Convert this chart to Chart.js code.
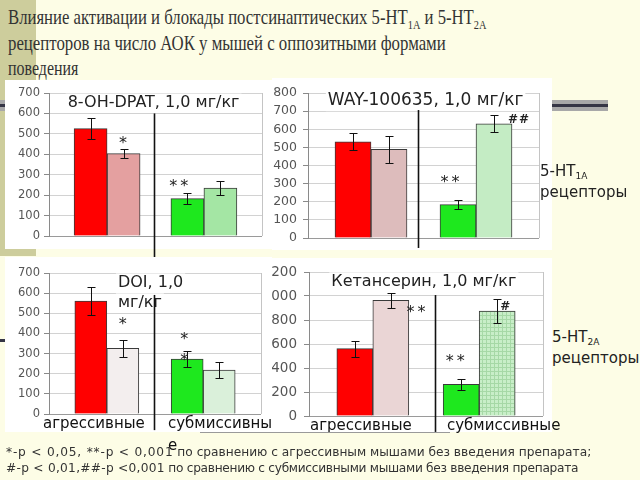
<!DOCTYPE html>
<html>
<head>
<meta charset="utf-8">
<script src="https://cdn.jsdelivr.net/npm/chart.js@4.4.1/dist/chart.umd.min.js"></script>
<style>
  html, body { margin: 0; padding: 0; }
  body { width: 640px; height: 480px; overflow: hidden; position: relative;
         background: #fdfde6; font-family: "DejaVu Sans", sans-serif; }
  .abs { position: absolute; }
  #khaki { left: 0; top: 0; width: 36px; height: 256px; background: #cdcd9c; }
  #rule { left: 0; top: 100px; width: 608px; height: 11px; background: #a8a8a8; }
  #rule::after { content: ""; position: absolute; left: 0; right: 0; top: 4px; height: 3px; background: #353545; }
  #rule2 { left: 0; top: 339px; width: 20px; height: 3px; background: #353545; }
  .panel { background: #fff; }
  .tline { left: 8px; font-family: "Liberation Serif", serif; font-size: 21px; line-height: 26px;
           color: #333; white-space: nowrap; transform-origin: 0 50%; }
  .tline sub { font-size: 13px; vertical-align: -5px; line-height: 0; }
  .side { font-size: 15px; line-height: 21px; color: #222; white-space: nowrap; }
  .side sub { font-size: 9px; vertical-align: -3px; line-height: 0; }
  .grp { font-size: 15px; line-height: 22px; color: #111; white-space: nowrap; }
  #wrapLbl { white-space: normal; word-break: break-all; width: 112px; }
  #notes { left: 6px; top: 445px; font-size: 12.2px; line-height: 15.5px; color: #333; white-space: nowrap; }
  #notes .p1 { letter-spacing: 0.8px; }
  #notes .p2 { letter-spacing: 0.27px; }
  #notes .r2 { letter-spacing: -0.3px; }
  #uline { left: 200px; top: 432px; width: 250px; height: 1px; background: #9a9a9a; }
  canvas { position: absolute; }
</style>
</head>
<body>
<div id="khaki" class="abs"></div>
<div id="rule" class="abs"></div>
<div id="rule2" class="abs"></div>
<div class="abs tline" style="top:4px;transform:scaleX(0.795)">Влияние активации и блокады постсинаптических 5-HT<sub>1A</sub> и 5-HT<sub>2A</sub></div>
<div class="abs tline" style="top:30px;transform:scaleX(0.80)">рецепторов на число АОК у мышей с оппозитными формами</div>
<div class="abs tline" style="top:55px;transform:scaleX(0.76)">поведения</div>

<div class="abs panel" style="left:5px;top:80px;width:267px;height:169px"></div>
<div class="abs panel" style="left:272px;top:78px;width:280px;height:172px"></div>
<canvas id="c1" width="272" height="185" style="left:0;top:75px"></canvas>
<canvas id="c2" width="280" height="185" style="left:272px;top:75px"></canvas>

<div class="abs panel" style="left:262px;top:258px;width:290px;height:174px"></div>
<canvas id="c4" width="290" height="185" style="left:262px;top:255px"></canvas>
<div class="abs panel" style="left:5px;top:257px;width:267px;height:175px"></div>
<canvas id="c3" width="272" height="185" style="left:0;top:255px"></canvas>

<div id="lblA3" class="abs grp" style="left:43px;top:412px"></div>
<div id="wrapLbl" class="abs grp" style="left:168px;top:412px"></div>
<div id="lblA4" class="abs grp" style="left:310px;top:414px"></div>
<div id="lblS4" class="abs grp" style="left:447px;top:414px"></div>

<div class="abs side" style="left:540px;top:161px">5-HT<sub>1A</sub><br>рецепторы</div>
<div class="abs side" style="left:552px;top:327px">5-HT<sub>2A</sub><br>рецепторы</div>

<div id="uline" class="abs"></div>
<div id="notes" class="abs"><span class="p1">*-p &lt; 0,05, **-p &lt; 0,001</span> по сравнению с агрессивным мышами без введения препарата;<br><span class="p2">#-p &lt; 0,01,##-p &lt;0,001</span><span class="r2"> по сравнению с субмиссивными мышами без введения препарата</span></div>

<script>
'use strict';

// ── Data (number of AFC, mean ± error) ──
const GROUPS = ['агрессивные', 'субмиссивные'];

// 8-OH-DPAT, 1,0 мг/кг
const dpatControl    = [526, 183];
const dpatControlErr = [52, 27];
const dpatDrug       = [403, 235];
const dpatDrugErr    = [23, 33];

// WAY-100635, 1,0 мг/кг
const wayControl     = [530, 184];
const wayControlErr  = [47, 24];
const wayDrug        = [489, 630];
const wayDrugErr     = [74, 46];

// DOI, 1,0 мг/кг
const doiControl     = [561, 273];
const doiControlErr  = [68, 41];
const doiDrug        = [326, 218];
const doiDrugErr     = [43, 40];

// Кетансерин, 1,0 мг/кг
const ketControl     = [561, 264];
const ketControlErr  = [66, 46];
const ketDrug        = [964, 875];
const ketDrugErr     = [61, 97];

// ── Styles ──
const RED   = '#ff0000';
const GREEN = '#1ee81e';
const EDGE  = '#3a3a3a';
const FONT  = '"DejaVu Sans", sans-serif';

function gridPattern(bg, line) {
  const c = document.createElement('canvas');
  c.width = 4; c.height = 4;
  const g = c.getContext('2d');
  g.fillStyle = bg; g.fillRect(0, 0, 4, 4);
  g.fillStyle = line; g.fillRect(0, 0, 4, 1); g.fillRect(0, 0, 1, 4);
  return g.createPattern(c, 'repeat');
}

// ── Decorations: frame, error bars, separator, title, significance marks ──
const decor = {
  id: 'decor',
  beforeDatasetsDraw(chart) {
    const { ctx, chartArea: a } = chart;
    ctx.save();
    ctx.strokeStyle = '#c4c4c4';
    ctx.lineWidth = 1;
    ctx.beginPath();
    ctx.moveTo(Math.round(a.right) + 0.5, a.top);
    ctx.lineTo(Math.round(a.right) + 0.5, a.bottom);
    ctx.stroke();
    ctx.restore();
  },
  afterDatasetsDraw(chart, args, o) {
    const { ctx, scales: { x, y } } = chart;
    ctx.save();

    // error bars
    ctx.strokeStyle = '#111';
    ctx.lineWidth = 1;
    chart.data.datasets.forEach((ds, di) => {
      chart.getDatasetMeta(di).data.forEach((bar, i) => {
        const v = ds.data[i].y, e = ds.errors[i];
        const cx = Math.round(bar.x) + 0.5;
        const y1 = Math.round(y.getPixelForValue(v + e)) + 0.5;
        const y2 = Math.round(y.getPixelForValue(v - e)) + 0.5;
        ctx.beginPath();
        ctx.moveTo(cx, y1); ctx.lineTo(cx, y2);
        ctx.moveTo(cx - 4, y1); ctx.lineTo(cx + 4, y1);
        ctx.moveTo(cx - 4, y2); ctx.lineTo(cx + 4, y2);
        ctx.stroke();
      });
    });

    // panel title with white box
    ctx.font = o.titleSize + 'px ' + FONT;
    ctx.textBaseline = 'middle';
    ctx.textAlign = o.titleAlign;
    o.title.forEach((line, k) => {
      const tx = x.getPixelForValue(o.titleX);
      const ty = y.getPixelForValue(o.titleY[k]);
      const w = ctx.measureText(line).width;
      const left = o.titleAlign === 'left' ? tx : tx - w / 2;
      ctx.fillStyle = '#fff';
      ctx.fillRect(left - 2, ty - o.titleSize * 0.6, w + 4, o.titleSize * 1.2);
      ctx.fillStyle = '#222';
      ctx.fillText(line, tx, ty);
    });

    // separator between groups
    const sx = Math.round(x.getPixelForValue(o.sepX)) + 0.5;
    ctx.strokeStyle = '#111';
    ctx.lineWidth = 1.6;
    ctx.beginPath();
    ctx.moveTo(sx, y.getPixelForValue(o.sepTop));
    ctx.lineTo(sx, y.getPixelForValue(o.sepBottom));
    ctx.stroke();

    // significance marks
    ctx.fillStyle = '#222';
    ctx.textAlign = 'center';
    ctx.textBaseline = 'alphabetic';
    o.marks.forEach(m => {
      const star = m.text.includes('*');
      ctx.font = star ? '16px ' + FONT : 'bold 12px ' + FONT;
      ctx.letterSpacing = star ? '3px' : '1px';
      const mt = ctx.measureText(m.text);
      const cy = y.getPixelForValue(m.y) + (mt.actualBoundingBoxAscent - mt.actualBoundingBoxDescent) / 2;
      ctx.fillText(m.text, x.getPixelForValue(m.x), cy);
    });
    ctx.letterSpacing = '0px';
    ctx.restore();
  },
};

// ── Chart builder ──
function toPoints(values) {
  return values.map((v, i) => ({ x: i, y: v }));
}

function drawPanel(id, p) {
  const ctx = document.getElementById(id).getContext('2d');
  return new Chart(ctx, {
    type: 'bar',
    data: {
      datasets: [
        { label: 'без препарата', data: toPoints(p.control), errors: p.controlErr,
          backgroundColor: [RED, GREEN], borderColor: EDGE, borderWidth: 1 },
        { label: p.title.join(' '), data: toPoints(p.drug), errors: p.drugErr,
          backgroundColor: p.drugColors, borderColor: EDGE, borderWidth: 1 },
      ],
    },
    options: {
      responsive: false,
      animation: false,
      devicePixelRatio: 1,
      layout: { padding: p.pad },
      barThickness: p.barW,
      plugins: {
        legend: { display: false },
        tooltip: { enabled: false },
        decor: p.decor,
      },
      scales: {
        x: { type: 'linear', min: -0.6, max: 1.6, offset: false, display: false },
        y: {
          min: 0, max: p.yMax,
          ticks: { stepSize: p.step, autoSkip: false, color: '#555', padding: p.tickPad,
                   font: { family: FONT, size: p.tickSize },
                   callback: v => String(v) },
          grid: { color: c => c.tick && c.tick.value === 0 ? '#9a9a9a' : '#d2d2d2',
                  tickLength: 5, tickColor: '#8a8a8a' },
          border: { color: '#8a8a8a' },
          afterFit: s => { s.width = p.axisW; },
        },
      },
    },
    plugins: [decor],
  });
}

// ── Panels ──
document.getElementById('lblA3').textContent = GROUPS[0];
document.getElementById('wrapLbl').textContent = GROUPS[1];
document.getElementById('lblA4').textContent = GROUPS[0];
document.getElementById('lblS4').textContent = GROUPS[1];

drawPanel('c1', {
  title: ['8-OH-DPAT, 1,0 мг/кг'],
  control: dpatControl, controlErr: dpatControlErr, drug: dpatDrug, drugErr: dpatDrugErr,
  drugColors: ['#e4a0a0', '#a4e6a4'],
  yMax: 700, step: 100, tickSize: 11.5, tickPad: 4, axisW: 49, barW: 33,
  pad: { top: 18, right: 10, bottom: 24, left: 0 },
  decor: {
    title: ['8-OH-DPAT, 1,0 мг/кг'], titleX: 0.48, titleY: [650], titleAlign: 'center', titleSize: 16,
    sepX: 0.48, sepTop: 600, sepBottom: -110,
    marks: [{ x: 0.18, y: 468, text: '*' }, { x: 0.755, y: 258, text: '**' }],
  },
});

drawPanel('c2', {
  title: ['WAY-100635, 1,0 мг/кг'],
  control: wayControl, controlErr: wayControlErr, drug: wayDrug, drugErr: wayDrugErr,
  drugColors: ['#ddbcbc', '#c4ecc4'],
  yMax: 800, step: 100, tickSize: 12.5, tickPad: 6, axisW: 36, barW: 36,
  pad: { top: 18, right: 13, bottom: 22, left: 0 },
  decor: {
    title: ['WAY-100635, 1,0 мг/кг'], titleX: 0.52, titleY: [756], titleAlign: 'center', titleSize: 17,
    sepX: 0.45, sepTop: 706, sepBottom: -55,
    marks: [{ x: 0.766, y: 325, text: '**' }, { x: 1.41, y: 662, text: '##' }],
  },
});

drawPanel('c4', {
  title: ['Кетансерин, 1,0 мг/кг'],
  control: ketControl, controlErr: ketControlErr, drug: ketDrug, drugErr: ketDrugErr,
  drugColors: ['#ead5d5', gridPattern('#c8eec8', '#a6d8a6')],
  yMax: 1200, step: 200, tickSize: 13.5, tickPad: 7, axisW: 47, barW: 36,
  pad: { top: 17, right: 9, bottom: 24, left: 0 },
  decor: {
    title: ['Кетансерин, 1,0 мг/кг'], titleX: 0.48, titleY: [1117], titleAlign: 'center', titleSize: 16,
    sepX: 0.58, sepTop: 1008, sepBottom: -133,
    marks: [{ x: 0.42, y: 892, text: '**' }, { x: 0.79, y: 483, text: '**' }, { x: 1.25, y: 917, text: '#' }],
  },
});

drawPanel('c3', {
  title: ['DOI, 1,0', 'мг/кг'],
  control: doiControl, controlErr: doiControlErr, drug: doiDrug, drugErr: doiDrugErr,
  drugColors: ['#f3eeee', '#daf0da'],
  yMax: 700, step: 100, tickSize: 11.5, tickPad: 4, axisW: 49, barW: 32,
  pad: { top: 18, right: 11, bottom: 26, left: 0 },
  decor: {
    title: ['DOI, 1,0', 'мг/кг'], titleX: 0.115, titleY: [650, 551], titleAlign: 'left', titleSize: 16,
    sepX: 0.49, sepTop: 591, sepBottom: -80,
    marks: [{ x: 0.18, y: 462, text: '*' }, { x: 0.82, y: 387, text: '*' }, { x: 0.82, y: 283, text: '*' }],
  },
});
</script>
</body>
</html>
